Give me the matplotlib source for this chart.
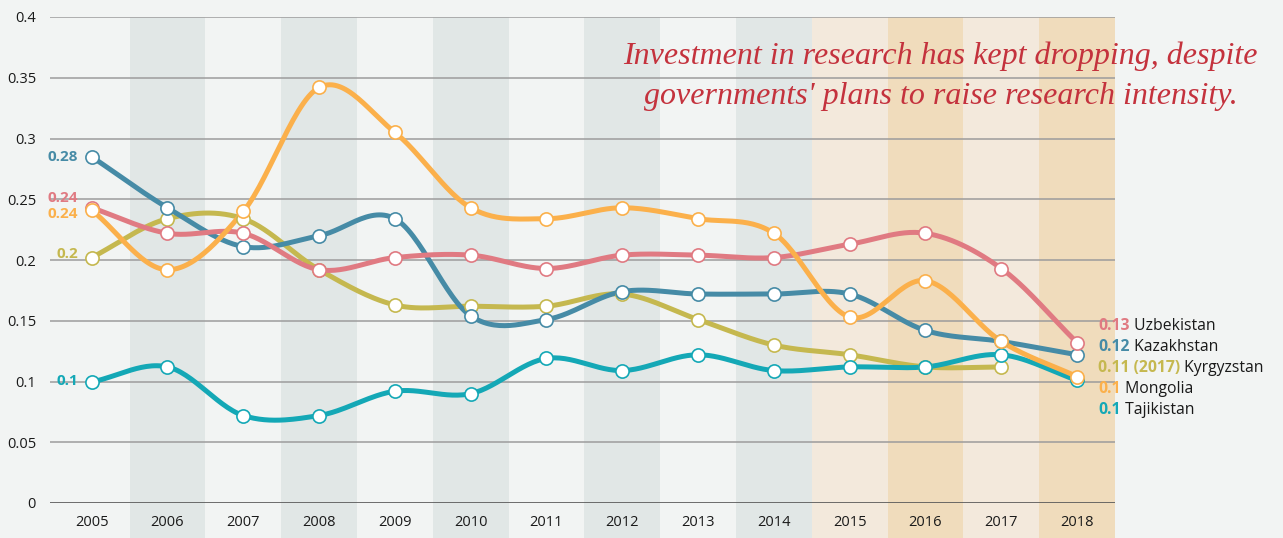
import matplotlib.pyplot as plt
from matplotlib.patches import Rectangle
import matplotlib.transforms as mtransforms
import numpy as np

plt.rcParams['font.family'] = ['Open Sans', 'DejaVu Sans']

years = np.arange(2005, 2019)

uzbekistan = [0.243, 0.222, 0.222, 0.192, 0.202, 0.204, 0.193, 0.204, 0.204, 0.202, 0.213, 0.222, 0.193, 0.132]
kazakhstan = [0.285, 0.243, 0.211, 0.220, 0.234, 0.154, 0.151, 0.174, 0.172, 0.172, 0.172, 0.142, 0.133, 0.122]
mongolia = [0.241, 0.192, 0.240, 0.342, 0.305, 0.243, 0.234, 0.243, 0.234, 0.222, 0.153, 0.183, 0.133, 0.104]
kyrgyzstan = [0.202, 0.234, 0.234, 0.192, 0.163, 0.162, 0.162, 0.172, 0.151, 0.130, 0.122, 0.112, 0.112]
tajikistan = [0.0996, 0.112, 0.072, 0.072, 0.092, 0.090, 0.119, 0.109, 0.122, 0.109, 0.112, 0.112, 0.122, 0.101]

# name, values, colour, start label, end label
series = [
    ('Kyrgyzstan', kyrgyzstan, '#c5b84f', '0.2', '0.11 (2017)'),
    ('Tajikistan', tajikistan, '#14a8b6', '0.1', '0.1'),
    ('Kazakhstan', kazakhstan, '#468ba6', '0.28', '0.12'),
    ('Uzbekistan', uzbekistan, '#e07a82', '0.24', '0.13'),
    ('Mongolia', mongolia, '#fbb04b', '0.24', '0.1'),
]
legend_order = ['Uzbekistan', 'Kazakhstan', 'Kyrgyzstan', 'Mongolia', 'Tajikistan']
band_colors = {2006: '#e1e7e6', 2008: '#e1e7e6', 2010: '#e1e7e6', 2012: '#e1e7e6',
               2014: '#e1e7e6', 2015: '#f3e9dc', 2016: '#f0dcbc', 2017: '#f3e9dc',
               2018: '#f0dcbc'}


def smooth(x, y, n=30):
    # catmull-rom curve through the points, for drawing only
    x = np.asarray(x, float)
    y = np.asarray(y, float)
    px = np.concatenate([[2 * x[0] - x[1]], x, [2 * x[-1] - x[-2]]])
    py = np.concatenate([[2 * y[0] - y[1]], y, [2 * y[-1] - y[-2]]])
    xs, ys = [], []
    t = np.linspace(0, 1, n)
    for i in range(1, len(px) - 2):
        for p, out in ((px, xs), (py, ys)):
            p0, p1, p2, p3 = p[i - 1], p[i], p[i + 1], p[i + 2]
            out.extend(0.5 * (2 * p1 + (-p0 + p2) * t + (2 * p0 - 5 * p1 + 4 * p2 - p3) * t ** 2
                              + (-p0 + 3 * p1 - 3 * p2 + p3) * t ** 3))
    return np.array(xs), np.array(ys)


fig = plt.figure(figsize=(12.83, 5.38), dpi=100, facecolor='#f2f4f3')
ax = fig.add_axes([50 / 1283, 35 / 538, 1065 / 1283, 486 / 538])
ax.set_facecolor('#f2f4f3')
ax.set_xlim(2004.45, 2018.5)
ax.set_ylim(0, 0.4)

trans = mtransforms.blended_transform_factory(ax.transData, ax.transAxes)
for yr, c in band_colors.items():
    ax.add_patch(Rectangle((yr - 0.5, -0.08), 1, 1.08, transform=trans, color=c,
                           lw=0, zorder=0, clip_on=False))

for v in np.arange(0.05, 0.401, 0.05):
    ax.axhline(v, color='#9c9c9c', lw=1.1, zorder=1)
ax.axhline(0, color='#555555', lw=1.2, zorder=1)

for name, vals, color, first, last in series:
    xs = years[:len(vals)]
    sx, sy = smooth(xs, vals)
    ax.plot(sx, sy, color=color, lw=3.6, zorder=3, solid_capstyle='round')
    ax.plot(xs, vals, 'o', ms=9.5, mfc='white', mec=color, mew=1.2, zorder=4)

# start-of-series value labels
start_labels = [('0.28', kazakhstan[0], '#468ba6', 0.0),
                ('0.24', uzbekistan[0], '#e07a82', 0.008),
                ('0.24', mongolia[0], '#fbb04b', -0.0035),
                ('0.2', kyrgyzstan[0], '#c5b84f', 0.003),
                ('0.1', tajikistan[0], '#14a8b6', 0.001)]
for txt, v, c, dy in start_labels:
    ax.text(2004.82, v + dy, txt, color=c, fontsize=11, fontweight='bold',
            ha='right', va='center', zorder=5)

# end-of-series legend
lookup = {s[0]: s for s in series}
for i, name in enumerate(legend_order):
    _, vals, color, first, last = lookup[name]
    y = 0.1455 - i * 0.0173
    t = ax.text(2018.28, y, last, color=color, fontsize=11.3, fontweight='bold',
                ha='left', va='center', clip_on=False)
    ax.annotate(' ' + name, xycoords=t, xy=(1, 0.5), va='center', ha='left',
                fontsize=11.3, color='#1a1a1a', annotation_clip=False)

ax.text(2016.2, 0.368, 'Investment in research has kept dropping, despite',
        family='Liberation Serif', style='italic', fontsize=23, color='#c4323d',
        ha='center', va='center', zorder=5, clip_on=False)
ax.text(2016.2, 0.3345, "governments' plans to raise research intensity.",
        family='Liberation Serif', style='italic', fontsize=23, color='#c4323d',
        ha='center', va='center', zorder=5, clip_on=False)

ax.set_xticks(years)
ax.set_xticklabels([str(y) for y in years])
ax.set_yticks(np.arange(0, 0.401, 0.05))
ax.set_yticklabels(['0', '0.05', '0.1', '0.15', '0.2', '0.25', '0.3', '0.35', '0.4'])
ax.tick_params(length=0, labelsize=10.5, colors='#1a1a1a')
ax.tick_params(axis='x', pad=9)
ax.tick_params(axis='y', pad=10)
for s in ax.spines.values():
    s.set_visible(False)

fig.savefig('out.png', dpi=100, facecolor=fig.get_facecolor())
